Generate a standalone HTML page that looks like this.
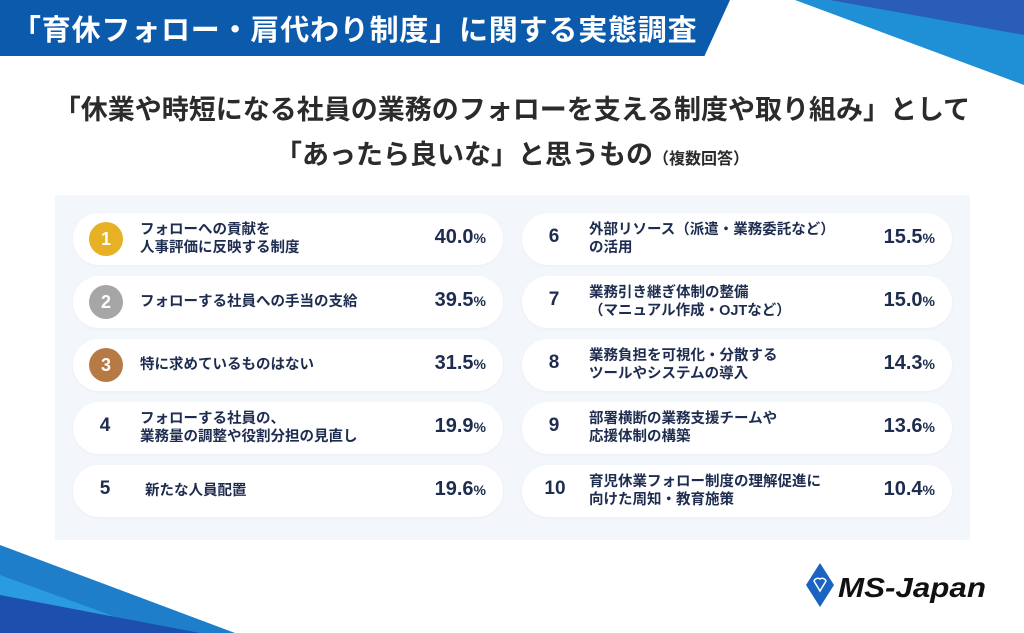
<!DOCTYPE html>
<html><head><meta charset="utf-8"><style>
body{margin:0;width:1024px;height:633px;position:relative;background:#fff;font-family:"Liberation Sans","Noto Sans CJK JP",sans-serif;overflow:hidden}
.hdr{position:absolute;left:0;top:0;width:730px;height:56px;background:#0b5aab;clip-path:polygon(0 0,100% 0,96.5% 100%,0 100%)}
.hdr span{position:absolute;left:12px;top:7px;color:#fff;font-size:29px;font-weight:bold;letter-spacing:0.8px}
.t{position:absolute;left:0;width:1024px;text-align:center;font-weight:bold;color:#2b2b2b;font-size:27px}
.panel{position:absolute;left:55px;top:195px;width:915px;height:345px;background:#f3f7fc}
.pill{position:absolute;width:430px;height:52px;background:#fff;border-radius:26px;box-shadow:0 1px 3px rgba(0,0,0,.04)}
.pill .n{position:absolute;left:21px;top:13px;width:22px;text-align:center;font-size:19px;font-weight:bold;color:#1e2d4f}
.pill .l{position:absolute;left:67px;top:0;height:52px;display:flex;align-items:center;font-size:14.5px;font-weight:bold;color:#1e2d4f;line-height:18px}
.pill .p{position:absolute;right:17px;top:13px;font-size:20px;font-weight:bold;color:#1e2d4f}
.pill .p small{font-size:14px}
.medal{position:absolute;left:16px;top:9px;width:34px;height:34px;border-radius:50%;color:#fff;font-weight:bold;font-size:18px;text-align:center;line-height:34px}
</style></head><body>
<div class="hdr"><span>「育休フォロー・肩代わり制度」に関する実態調査</span></div>
<svg style="position:absolute;left:0;top:0" width="1024" height="633">
<polygon points="795,0 1024,0 1024,85" fill="#1f8fd6"/>
<polygon points="830,0 1024,0 1024,35" fill="#2a5db8"/>
<polygon points="0,545 235,633 0,633" fill="#1f7ec9"/>
<polygon points="0,575 160,633 0,633" fill="#2a9be0"/>
<polygon points="0,595 200,633 0,633" fill="#1c4fae"/>
<g transform="translate(820,585)">
<polygon points="0,-22 14,0 0,22 -14,0" fill="#1a63c0"/>
<path d="M-6,-4 a4,4 0 0 1 6,-2 a4,4 0 0 1 6,2 l-6,10z" fill="none" stroke="#fff" stroke-width="1.5"/>
</g>
<text x="838" y="597" font-family="Liberation Sans" font-style="italic" font-weight="bold" font-size="28" fill="#111" textLength="148" lengthAdjust="spacingAndGlyphs">MS-Japan</text>
</svg>
<div class="t" style="top:88px">「休業や時短になる社員の業務のフォローを支える制度や取り組み」として</div>
<div class="t" style="top:133px">「あったら良いな」と思うもの<span style="font-size:16px">（複数回答）</span></div>
<div class="panel"></div>
<div class="pill" style="left:73px;top:213px"><div class="medal" style="background:#e7b125">1</div><div class="l">フォローへの貢献を<br>人事評価に反映する制度</div><div class="p">40.0<small>%</small></div></div>
<div class="pill" style="left:73px;top:276px"><div class="medal" style="background:#a6a6a6">2</div><div class="l">フォローする社員への手当の支給</div><div class="p">39.5<small>%</small></div></div>
<div class="pill" style="left:73px;top:339px"><div class="medal" style="background:#b87a45">3</div><div class="l">特に求めているものはない</div><div class="p">31.5<small>%</small></div></div>
<div class="pill" style="left:73px;top:402px"><div class="n">4</div><div class="l">フォローする社員の、<br>業務量の調整や役割分担の見直し</div><div class="p">19.9<small>%</small></div></div>
<div class="pill" style="left:73px;top:465px"><div class="n">5</div><div class="l" style="left:72px">新たな人員配置</div><div class="p">19.6<small>%</small></div></div>
<div class="pill" style="left:522px;top:213px"><div class="n">6</div><div class="l">外部リソース（派遣・業務委託など）<br>の活用</div><div class="p">15.5<small>%</small></div></div>
<div class="pill" style="left:522px;top:276px"><div class="n">7</div><div class="l">業務引き継ぎ体制の整備<br>（マニュアル作成・OJTなど）</div><div class="p">15.0<small>%</small></div></div>
<div class="pill" style="left:522px;top:339px"><div class="n">8</div><div class="l">業務負担を可視化・分散する<br>ツールやシステムの導入</div><div class="p">14.3<small>%</small></div></div>
<div class="pill" style="left:522px;top:402px"><div class="n">9</div><div class="l">部署横断の業務支援チームや<br>応援体制の構築</div><div class="p">13.6<small>%</small></div></div>
<div class="pill" style="left:522px;top:465px"><div class="n" style="left:17px;width:32px">10</div><div class="l">育児休業フォロー制度の理解促進に<br>向けた周知・教育施策</div><div class="p">10.4<small>%</small></div></div>
</body></html>
